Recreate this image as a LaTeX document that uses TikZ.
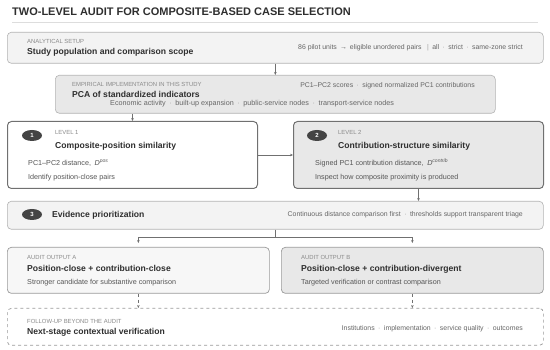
\documentclass[tikz,border=0pt]{standalone}
\usepackage{fontspec}
\setmainfont{Liberation Sans}
\usetikzlibrary{positioning,arrows.meta,shapes.geometric,calc}
\usepackage{xcolor}
\definecolor{ink}{HTML}{2E2E2E}
\definecolor{bodygray}{HTML}{555555}
\definecolor{capgray}{HTML}{8A8A8A}
\definecolor{sidegray}{HTML}{666666}
\definecolor{sepgray}{HTML}{A0A0A0}
\definecolor{rulegray}{HTML}{DDDDDD}
\definecolor{edgegray}{HTML}{B3B3B3}
\definecolor{darkedge}{HTML}{707070}
\definecolor{midedge}{HTML}{9A9A9A}
\definecolor{paleFill}{HTML}{F3F3F3}
\definecolor{greyFill}{HTML}{E8E8E8}
\definecolor{badgeFill}{HTML}{444444}
\newcommand{\dotsep}{\enspace{\color{sepgray}·}\enspace}

\begin{document}
\begin{tikzpicture}[x=1pt,y=-1pt,
  panel/.style={draw=edgegray, line width=0.6pt, rounded corners=4pt,
    anchor=north west, inner sep=0pt},
  keypanel/.style={panel, draw=darkedge, line width=1pt},
  outpanel/.style={panel, draw=midedge, line width=0.7pt},
  capslbl/.style={anchor=base west, inner sep=0pt, text=capgray,
    font=\fontsize{5.9}{7}\selectfont},
  ttl/.style={anchor=base west, inner sep=0pt, text=ink,
    font=\bfseries\fontsize{8.6}{10}\selectfont},
  bodytxt/.style={anchor=base west, inner sep=0pt, text=bodygray,
    font=\fontsize{7.2}{8.5}\selectfont},
  sidetxt/.style={anchor=base east, inner sep=0pt, text=sidegray,
    font=\fontsize{6.9}{8}\selectfont},
  badge/.style={ellipse, fill=badgeFill, text=white, inner sep=0pt,
    minimum width=20pt, minimum height=11pt,
    font=\bfseries\fontsize{6}{7}\selectfont},
  conn/.style={draw=darkedge, line width=0.6pt},
  arr/.style={conn, -{Stealth[length=3pt,width=2.6pt]}}]
  \useasboundingbox (0,0) rectangle (550,350);
  % Title
  \node[anchor=base west, inner sep=0pt, text=ink,
    font=\bfseries\fontsize{11}{13}\selectfont] (title) at (12,16)
    {TWO-LEVEL AUDIT FOR COMPOSITE-BASED CASE SELECTION};
  \draw[rulegray, line width=0.8pt] (12,22.5) -- (538,22.5);
  % Panels
  \node[panel, fill=paleFill, minimum width=536pt, minimum height=31pt] (setup) at (7,32) {};
  \node[panel, fill=greyFill, minimum width=440pt, minimum height=38pt] (pca) at (55,75) {};
  \node[keypanel, fill=white, minimum width=250pt, minimum height=67pt] (lvA) at (7,121) {};
  \node[keypanel, fill=greyFill, minimum width=250pt, minimum height=67pt] (lvB) at (293,121) {};
  \node[panel, fill=paleFill, minimum width=536pt, minimum height=28pt] (evid) at (7,201) {};
  \node[outpanel, fill=paleFill!70!white, minimum width=262pt, minimum height=46pt] (outA) at (7,247) {};
  \node[outpanel, fill=greyFill, minimum width=262pt, minimum height=46pt] (outB) at (281,247) {};
  \node[outpanel, dashed, fill=white, minimum width=536pt, minimum height=37pt] (follow) at (7,308) {};
  % Analytical setup
  \node[capslbl] (setupLbl) at (27,43.5) {ANALYTICAL SETUP};
  \node[ttl] (setupTtl) at (27,55) {Study population and comparison scope};
  \node[sidetxt] (setupSide) at (523,50)
    {86 pilot units \,→\, eligible unordered pairs \enspace{\color{sepgray}|}\enspace all\dotsep strict\dotsep same-zone strict};
  % PCA
  \node[capslbl] (pcaLbl) at (72,87) {EMPIRICAL IMPLEMENTATION IN THIS STUDY};
  \node[ttl] (pcaTtl) at (72,98) {PCA of standardized indicators};
  \node[sidetxt] (pcaSide) at (475,87.5)
    {PC1–PC2 scores\dotsep signed normalized PC1 contributions};
  \node[sidetxt, anchor=base west, font=\fontsize{7.2}{8.5}\selectfont] (pcaInd) at (110,106)
    {Economic activity\dotsep built-up expansion\dotsep public-service nodes\dotsep transport-service nodes};
  % Level 1
  \node[badge] (bA) at (32,135.5) {1};
  \node[capslbl] (lvALbl) at (55,135) {LEVEL 1};
  \node[ttl] (lvATtl) at (55,149) {Composite-position similarity};
  \node[bodytxt] (lvAOne) at (28,166) {PC1–PC2 distance,\enspace\textit{D}\textsuperscript{\textit{pos}}};
  \node[bodytxt] (lvATwo) at (28,180) {Identify position-close pairs};
  % Level 2
  \node[badge] (bB) at (317,135.5) {2};
  \node[capslbl] (lvBLbl) at (338,135) {LEVEL 2};
  \node[ttl] (lvBTtl) at (338,149) {Contribution-structure similarity};
  \node[bodytxt] (lvBOne) at (315,166) {Signed PC1 contribution distance,\enspace\textit{D}\textsuperscript{\textit{contrib}}};
  \node[bodytxt] (lvBTwo) at (315,180) {Inspect how composite proximity is produced};
  % Evidence prioritization
  \node[badge] (bC) at (32,214.5) {3};
  \node[ttl] (evidTtl) at (52,217.5) {Evidence prioritization};
  \node[sidetxt] (evidSide) at (523,216.5)
    {Continuous distance comparison first\dotsep thresholds support transparent triage};
  % Audit outputs
  \node[capslbl] (outALbl) at (27,260) {AUDIT OUTPUT A};
  \node[ttl] (outATtl) at (27,272) {Position-close + contribution-close};
  \node[bodytxt] (outABody) at (27,284.5) {Stronger candidate for substantive comparison};
  \node[capslbl] (outBLbl) at (301,260) {AUDIT OUTPUT B};
  \node[ttl] (outBTtl) at (301,272) {Position-close + contribution-divergent};
  \node[bodytxt] (outBBody) at (301,284.5) {Targeted verification or contrast comparison};
  % Follow-up
  \node[capslbl] (followLbl) at (27,324) {FOLLOW-UP BEYOND THE AUDIT};
  \node[ttl] (followTtl) at (27,335) {Next-stage contextual verification};
  \node[sidetxt] (followSide) at (523,331)
    {Institutions\dotsep implementation\dotsep service quality\dotsep outcomes};
  % Connectors
  \draw[arr] (setup.south) -- (pca.north);
  \draw[arr] (pca.south -| lvA.north) -- (lvA.north);
  \draw[arr] (lvA.east) -- (lvB.west);
  \draw[arr] (lvB.south) -- (lvB.south |- evid.north);
  \draw[conn] (evid.south) -- ++(0,8) coordinate (split);
  \draw[arr, shorten >=4pt] (split) -| (outA.north);
  \draw[arr, shorten >=4pt] (split) -| (outB.north);
  \draw[arr, dashed] (outA.south) -- (outA.south |- follow.north);
  \draw[arr, dashed] (outB.south) -- (outB.south |- follow.north);
\end{tikzpicture}
\end{document}
